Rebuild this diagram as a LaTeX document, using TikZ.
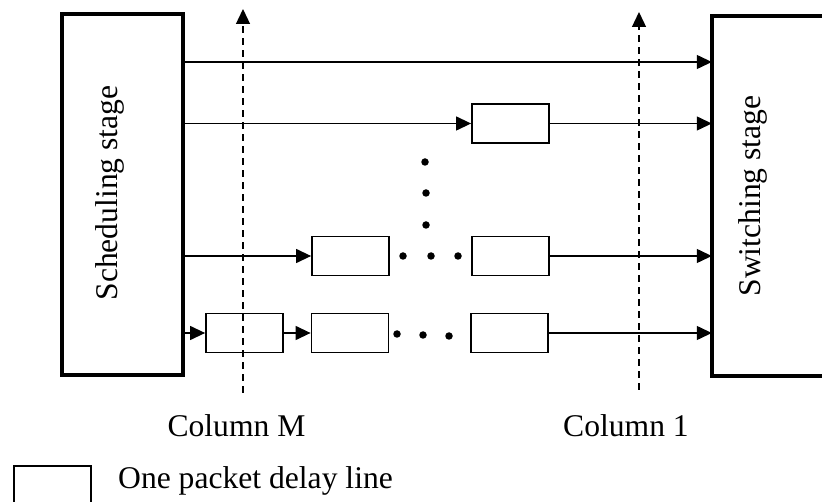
\documentclass[tikz,border=0pt]{standalone}
\usepackage{fontspec}
\setmainfont{Liberation Serif}
\usetikzlibrary{arrows.meta}
\begin{document}
\begin{tikzpicture}[x=1pt,y=-1pt,
  stage/.style={draw,line width=4.5pt,inner sep=0pt},
  dline/.style={draw,line width=1.8pt,minimum width=77pt,minimum height=39pt,inner sep=0pt},
  arr/.style={line width=1.3pt,-{Triangle[length=15pt,width=14pt]}},
  link/.style={line width=1.3pt},
  col/.style={line width=1.3pt,dash pattern=on 7pt off 5pt,-{Triangle[length=15pt,width=14pt]}},
  lbl/.style={font=\fontsize{31.6}{38}\selectfont,inner sep=0pt},
  dot/.style={circle,fill,inner sep=0pt,minimum size=7.5pt}]
\useasboundingbox (0,0) rectangle (822,502);
% stages
\node[stage,minimum width=121pt,minimum height=361pt] (sched) at (122.5,194.5) {};
\node[lbl,rotate=90,anchor=base] (schedtxt) at (117,193) {Scheduling stage};
\node[minimum width=114pt,minimum height=360pt,inner sep=0pt] (sw) at (769,196) {};
\draw[line width=4.5pt] (sw.north east) -- (sw.north west) -- (sw.south west) -- (sw.south east);
\node[lbl,rotate=90,anchor=base] (swtxt) at (760,196) {Switching stage};
% column markers
\coordinate (cMb) at (243,393);
\coordinate (cMt) at (243,9);
\coordinate (c1b) at (639,390);
\coordinate (c1t) at (639,12);
\draw[col] (cMb) -- (cMt);
\draw[col] (c1b) -- (c1t);
\node[lbl,anchor=base] (colM) at (236.5,436) {Column M};
\node[lbl,anchor=base] (col1) at (626,436) {Column 1};
% row 1
\draw[arr] (sched.east |- 0,62) -- (sw.west |- 0,62);
% row 2
\node[dline] (b21) at (510.5,123.5) {};
\draw[arr] (sched.east |- b21) -- (b21.west);
\draw[arr] (b21.east) -- (sw.west |- b21);
% vertical dots
\node[dot] (v1) at (425,162) {};
\node[dot] (v2) at (426,193) {};
\node[dot] (v3) at (426,225) {};
% row 3
\node[dline] (b31) at (350.5,256) {};
\node[dline] (b32) at (510.5,256) {};
\draw[arr] (sched.east |- b31) -- (b31.west);
\draw[arr] (b32.east) -- (sw.west |- b32);
\node[dot] (d31) at (403,256) {};
\node[dot] (d32) at (431,256) {};
\node[dot] (d33) at (458,256) {};
% row 4
\node[dline] (b41) at (244.5,333) {};
\node[dline] (b42) at (350,333) {};
\node[dline] (b43) at (509.5,333) {};
\draw[arr] (sched.east |- b41) -- (b41.west);
\draw[arr] (b41.east) -- (b42.west);
\draw[arr] (b43.east) -- (sw.west |- b43);
\node[dot] (d41) at (397,334) {};
\node[dot] (d42) at (423,335) {};
\node[dot] (d43) at (449,336) {};
% legend
\node[dline] (leg) at (52.5,485.5) {};
\node[lbl,anchor=base west] (legtxt) at (118,488) {One packet delay line};
\end{tikzpicture}
\end{document}
